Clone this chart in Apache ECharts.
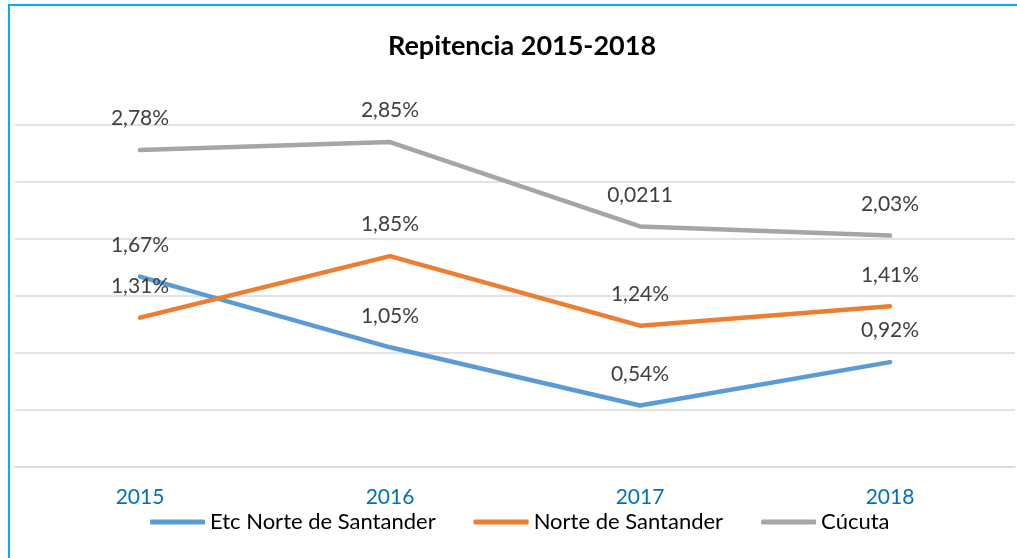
<!DOCTYPE html>
<html>
<head>
<meta charset="utf-8">
<script src="https://cdn.jsdelivr.net/npm/echarts@6/dist/echarts.min.js"></script>
<style>
html,body{margin:0;padding:0;background:#fff;}
#chart{width:1017px;height:558px;}
</style>
</head>
<body>
<div id="chart"></div>
<script>
const categories = ['2015', '2016', '2017', '2018'];
const etcNorte = [1.67, 1.05, 0.54, 0.92];
const norte = [1.31, 1.85, 1.24, 1.41];
const cucuta = [2.78, 2.85, 2.11, 2.03];
const etcNorteLabels = ['1,67%', '1,05%', '0,54%', '0,92%'];
const norteLabels = ['1,31%', '1,85%', '1,24%', '1,41%'];
const cucutaLabels = ['2,78%', '2,85%', '0,0211', '2,03%'];
const seriesNames = ['Etc Norte de Santander', 'Norte de Santander', 'Cúcuta'];
const colors = ['#5B9BD5', '#ED7D31', '#A5A5A5'];

const FONT = 'Lato, "Liberation Sans", sans-serif';
const chart = echarts.init(document.getElementById('chart'), null, {renderer: 'canvas'});

function mkSeries(name, data, labels, color) {
  return {
    name: name,
    type: 'line',
    data: data,
    symbol: 'circle',
    symbolSize: 2,
    showSymbol: true,
    lineStyle: {color: color, width: 4.5, cap: 'round', join: 'round'},
    itemStyle: {color: color},
    label: {
      show: true,
      position: 'top',
      distance: 20,
      color: '#404040',
      fontFamily: FONT,
      fontSize: 21,
      formatter: p => labels[p.dataIndex]
    },
    emphasis: {disabled: true},
    animation: false
  };
}

chart.setOption({
  animation: false,
  backgroundColor: '#ffffff',
  color: colors,
  title: {
    text: 'Repitencia 2015-2018',
    left: 517,
    textAlign: 'center',
    top: 28,
    textStyle: {fontFamily: FONT, fontWeight: 'bold', fontSize: 27, color: '#000000'}
  },
  legend: {
    left: 145,
    top: 506,
    itemWidth: 55,
    itemHeight: 5,
    itemGap: 38,
    icon: 'roundRect',
    textStyle: {fontFamily: FONT, fontSize: 22, color: '#000000'},
    data: seriesNames
  },
  grid: {left: 15, right: 2, top: 125, bottom: 91, containLabel: false},
  xAxis: {
    type: 'category',
    data: categories,
    boundaryGap: true,
    axisLine: {show: true, lineStyle: {color: '#D9D9D9', width: 1.5}},
    axisTick: {show: false},
    axisLabel: {color: '#0070C0', fontFamily: FONT, fontSize: 21, margin: 20}
  },
  yAxis: {
    type: 'value',
    min: 0,
    max: 3,
    interval: 0.5,
    axisLabel: {show: false},
    axisLine: {show: false},
    axisTick: {show: false},
    splitLine: {show: true, lineStyle: {color: '#D9D9D9', width: 1.5}}
  },
  graphic: [{
    type: 'rect',
    shape: {x: 9, y: 5, width: 1200, height: 700},
    style: {fill: 'none', stroke: '#00B0F0', lineWidth: 2},
    silent: true,
    z: 100
  }],
  series: [
    mkSeries(seriesNames[0], etcNorte, etcNorteLabels, colors[0]),
    mkSeries(seriesNames[1], norte, norteLabels, colors[1]),
    mkSeries(seriesNames[2], cucuta, cucutaLabels, colors[2])
  ]
});
</script>
</body>
</html>
